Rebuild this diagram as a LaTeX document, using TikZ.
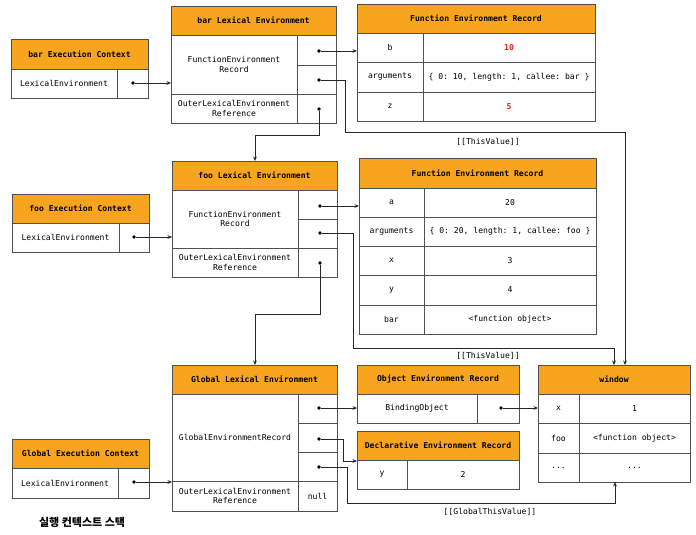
\documentclass[tikz,border=0pt]{standalone}
\usepackage{fontspec}
\setmonofont{DejaVu Sans Mono}
\newfontfamily\krfont{Noto Sans CJK KR}
\usetikzlibrary{arrows.meta}
\definecolor{hdrc}{HTML}{F7A41E}
\definecolor{bord}{HTML}{505050}
\definecolor{redv}{HTML}{E02020}
\newcommand\mono{\ttfamily\fontsize{8.1}{9.8}\selectfont}
\newcommand\bx[7]{\node[#1, minimum width={(#5-#3)*1pt}, minimum height={(#6-#4)*1pt}] (#2) at ({(#3+#5)/2},{(#4+#6)/2}) {#7};}
\tikzset{
  base/.style={draw=bord, line width=0.8pt, inner sep=0pt, outer sep=0pt, align=center, font=\mono},
  hdr/.style={base, fill=hdrc, font=\mono\bfseries},
  cell/.style={base, fill=white},
  redcell/.style={cell, text=redv, font=\mono\bfseries},
  dotn/.style={circle, fill=black, inner sep=0pt, minimum size=3.8pt},
  conn/.style={line width=0.85pt, draw=black!85, -{Stealth[length=4.5pt,width=3.8pt]}},
  lbl/.style={font=\mono, inner sep=1pt}
}
\begin{document}
\begin{tikzpicture}[x=1pt,y=-1pt]
\fill[white] (0,0) rectangle (696,535);
\useasboundingbox (0,0) rectangle (696,535);

% bar Execution Context
\bx{hdr}{bE-h}{11}{39}{148}{69}{bar Execution Context}
\bx{cell}{bE-l}{11}{69}{117}{98}{LexicalEnvironment}
\bx{cell}{bE-p}{117}{69}{148}{98}{}
\node[dotn] (bEd) at (133,83) {};

% bar Lexical Environment
\bx{hdr}{bL-h}{171}{6}{336}{35}{bar Lexical Environment}
\bx{cell}{bL-f}{171}{35}{297}{94}{FunctionEnvironment\\Record}
\bx{cell}{bL-p1}{297}{35}{336}{65}{}
\bx{cell}{bL-p2}{297}{65}{336}{94}{}
\bx{cell}{bL-o}{171}{94}{297}{123}{OuterLexicalEnvironment\\Reference}
\bx{cell}{bL-p3}{297}{94}{336}{123}{}
\node[dotn] (bLd1) at (319,51) {};
\node[dotn] (bLd2) at (319,80) {};
\node[dotn] (bLd3) at (319,109) {};

% bar Function Environment Record
\bx{hdr}{bF-h}{357}{4}{595}{33}{Function Environment Record}
\bx{cell}{bF-b}{357}{33}{423}{62}{b}
\bx{redcell}{bF-bv}{423}{33}{595}{62}{10}
\bx{cell}{bF-a}{357}{62}{423}{92}{arguments}
\bx{cell}{bF-av}{423}{62}{595}{92}{\{ 0: 10, length: 1, callee: bar \}}
\bx{cell}{bF-z}{357}{92}{423}{121}{z}
\bx{redcell}{bF-zv}{423}{92}{595}{121}{5}

% foo Execution Context
\bx{hdr}{fE-h}{12}{194}{149}{223}{foo Execution Context}
\bx{cell}{fE-l}{12}{223}{119}{252}{LexicalEnvironment}
\bx{cell}{fE-p}{119}{223}{149}{252}{}
\node[dotn] (fEd) at (134,237) {};

% foo Lexical Environment
\bx{hdr}{fL-h}{172}{161}{337}{190}{foo Lexical Environment}
\bx{cell}{fL-f}{172}{190}{298}{248}{FunctionEnvironment\\Record}
\bx{cell}{fL-p1}{298}{190}{337}{219}{}
\bx{cell}{fL-p2}{298}{219}{337}{248}{}
\bx{cell}{fL-o}{172}{248}{298}{277}{OuterLexicalEnvironment\\Reference}
\bx{cell}{fL-p3}{298}{248}{337}{277}{}
\node[dotn] (fLd1) at (320,206) {};
\node[dotn] (fLd2) at (320,233) {};
\node[dotn] (fLd3) at (320,263) {};

% foo Function Environment Record
\bx{hdr}{fF-h}{359}{158}{596}{188}{Function Environment Record}
\bx{cell}{fF-a}{359}{188}{424}{217}{a}
\bx{cell}{fF-av}{424}{188}{596}{217}{20}
\bx{cell}{fF-g}{359}{217}{424}{246}{arguments}
\bx{cell}{fF-gv}{424}{217}{596}{246}{\{ 0: 20, length: 1, callee: foo \}}
\bx{cell}{fF-x}{359}{246}{424}{275}{x}
\bx{cell}{fF-xv}{424}{246}{596}{275}{3}
\bx{cell}{fF-y}{359}{275}{424}{305}{y}
\bx{cell}{fF-yv}{424}{275}{596}{305}{4}
\bx{cell}{fF-r}{359}{305}{424}{334}{bar}
\bx{cell}{fF-rv}{424}{305}{596}{334}{<function object>}

% Global Lexical Environment
\bx{hdr}{gL-h}{172}{365}{337}{394}{Global Lexical Environment}
\bx{cell}{gL-g}{172}{394}{298}{481}{GlobalEnvironmentRecord}
\bx{cell}{gL-p1}{298}{394}{337}{423}{}
\bx{cell}{gL-p2}{298}{423}{337}{452}{}
\bx{cell}{gL-p3}{298}{452}{337}{481}{}
\bx{cell}{gL-o}{172}{481}{298}{511}{OuterLexicalEnvironment\\Reference}
\bx{cell}{gL-n}{298}{481}{337}{511}{null}
\node[dotn] (gLd1) at (319,408) {};
\node[dotn] (gLd2) at (319,439) {};
\node[dotn] (gLd3) at (319,467) {};

% Global Execution Context
\bx{hdr}{gE-h}{12}{439}{149}{468}{Global Execution Context}
\bx{cell}{gE-l}{12}{468}{118}{498}{LexicalEnvironment}
\bx{cell}{gE-p}{118}{468}{149}{498}{}
\node[dotn] (gEd) at (134,482) {};

% Object Environment Record
\bx{hdr}{oE-h}{357}{365}{519}{394}{Object Environment Record}
\bx{cell}{oE-b}{357}{394}{477}{423}{BindingObject}
\bx{cell}{oE-p}{477}{394}{519}{423}{}
\node[dotn] (oEd) at (501,408) {};

% Declarative Environment Record
\bx{hdr}{dE-h}{357}{431}{519}{460}{Declarative Environment Record}
\bx{cell}{dE-y}{357}{460}{407}{489}{y}
\bx{cell}{dE-yv}{407}{460}{519}{489}{2}

% window
\bx{hdr}{w-h}{538}{365}{690}{394}{window}
\bx{cell}{w-x}{538}{394}{579}{423}{x}
\bx{cell}{w-xv}{579}{394}{690}{423}{1}
\bx{cell}{w-f}{538}{423}{579}{453}{foo}
\bx{cell}{w-fv}{579}{423}{690}{453}{<function object>}
\bx{cell}{w-d}{538}{453}{579}{482}{...}
\bx{cell}{w-dv}{579}{453}{690}{482}{...}

% connectors
\draw[conn] (bEd) -- (bEd -| bL-f.west);
\draw[conn] (bLd1) -- (bLd1 -| bF-b.west);
\coordinate (tv1a) at (345,132);
\coordinate (tv1b) at (625,132);
\draw[conn] (bLd2) -| (tv1a) -- (tv1b) -- (tv1b |- w-h.north);
\coordinate (bo) at (255,135);
\draw[conn] (bLd3) |- (bo) -- (bo |- fL-h.north);

\draw[conn] (fEd) -- (fEd -| fL-f.west);
\draw[conn] (fLd1) -- (fLd1 -| fF-a.west);
\coordinate (tv2a) at (353,348);
\coordinate (tv2b) at (614,348);
\draw[conn] (fLd2) -| (tv2a) -- (tv2b) -- (tv2b |- w-h.north);
\coordinate (fo) at (255,314);
\draw[conn] (fLd3) |- (fo) -- (fo |- gL-h.north);

\draw[conn] (gEd) -- (gEd -| gL-o.west);
\draw[conn] (gLd1) -- (gLd1 -| oE-b.west);
\coordinate (g2) at (343,461);
\draw[conn] (gLd2) -| (g2) -- (g2 -| dE-y.west);
\coordinate (g3a) at (347,503);
\coordinate (g3b) at (615,503);
\draw[conn] (gLd3) -| (g3a) -- (g3b) -- (g3b |- w-dv.south);
\draw[conn] (oEd) -- (oEd -| w-x.west);

% labels
\node[lbl] (tvl1) at (488,142) {[[ThisValue]]};
\node[lbl] (tvl2) at (488,356) {[[ThisValue]]};
\node[lbl] (gtvl) at (490,512) {[[GlobalThisValue]]};
\node[font=\krfont\bfseries\fontsize{11}{13}\selectfont, inner sep=0pt] (stack) at (82,522) {실행 컨텍스트 스택};
\end{tikzpicture}
\end{document}
